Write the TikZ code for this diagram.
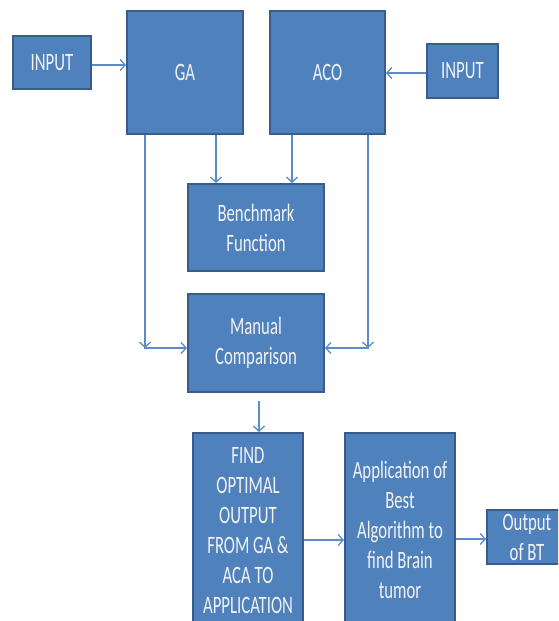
\documentclass[tikz,border=0pt]{standalone}
\usepackage{fontspec}
\setmainfont{Carlito}[FakeStretch=0.67]
\usetikzlibrary{arrows.meta}
\definecolor{boxfill}{HTML}{4F81BD}
\definecolor{boxline}{HTML}{385D8A}
\definecolor{arrline}{HTML}{5B8BC8}
\definecolor{txt}{HTML}{F2F2F2}
\tikzset{
  blk/.style={draw=boxline, line width=2pt, fill=boxfill, text=txt, align=center,
    font=\fontsize{25}{30}\selectfont, inner sep=0pt},
  arr/.style={draw=arrline, line width=1.3pt, -{Straight Barb[length=5pt,width=11pt]}}
}
\begin{document}
\begin{tikzpicture}[x=1pt,y=-1pt]
\useasboundingbox (0,0) rectangle (558,621);
\clip (0,0) rectangle (558,621);
\node[blk, minimum width=78pt, minimum height=53pt] (in1) at (52,62.5) {INPUT};
\node[blk, minimum width=116pt, minimum height=123pt] (GA) at (185,72.5) {GA};
\node[blk, minimum width=115pt, minimum height=123pt] (ACO) at (327.5,72.5) {ACO};
\node[blk, minimum width=71pt, minimum height=54pt] (in2) at (462.5,71) {INPUT};
\node[blk, minimum width=136pt, minimum height=87pt] (BF) at (256,227.5) {Benchmark\\Function};
\node[blk, minimum width=136pt, minimum height=98pt] (MC) at (256,343) {Manual\\Comparison};
\node[blk, minimum width=110pt, minimum height=196pt] (FO) at (248,531) {FIND\\OPTIMAL\\OUTPUT\\FROM GA \&\\ACA TO\\APPLICATION};
\node[blk, minimum width=110pt, minimum height=194pt] (AP) at (400,530) {Application of\\Best\\Algorithm to\\find Brain\\tumor};
\node[blk, minimum width=80pt, minimum height=54pt] (OB) at (527,537) {Output\\of BT};
\coordinate (gl) at (145,348);
\coordinate (ar) at (368,348);
\draw[arr] (in1.east |- 0,65) -- (GA.west |- 0,65);
\draw[arr] (in2.west |- 0,73) -- (ACO.east |- 0,73);
\draw[arr] (GA.south -| 216,0) -- (BF.north -| 216,0);
\draw[arr] (ACO.south -| 292,0) -- (BF.north -| 292,0);
\draw[arr] (GA.south -| gl) -- (gl);
\draw[arr] ([xshift=-0.6pt]gl) -- (MC.west |- gl);
\draw[arr] (ACO.south -| ar) -- (ar);
\draw[arr] ([xshift=0.6pt]ar) -- (MC.east |- ar);
\draw[arr, shorten <=8pt] (MC.south -| 259,0) -- (FO.north -| 259,0);
\draw[arr] (FO.east |- 0,540) -- (AP.west |- 0,540);
\draw[arr] (AP.east |- 0,539) -- (OB.west |- 0,539);
\end{tikzpicture}
\end{document}
